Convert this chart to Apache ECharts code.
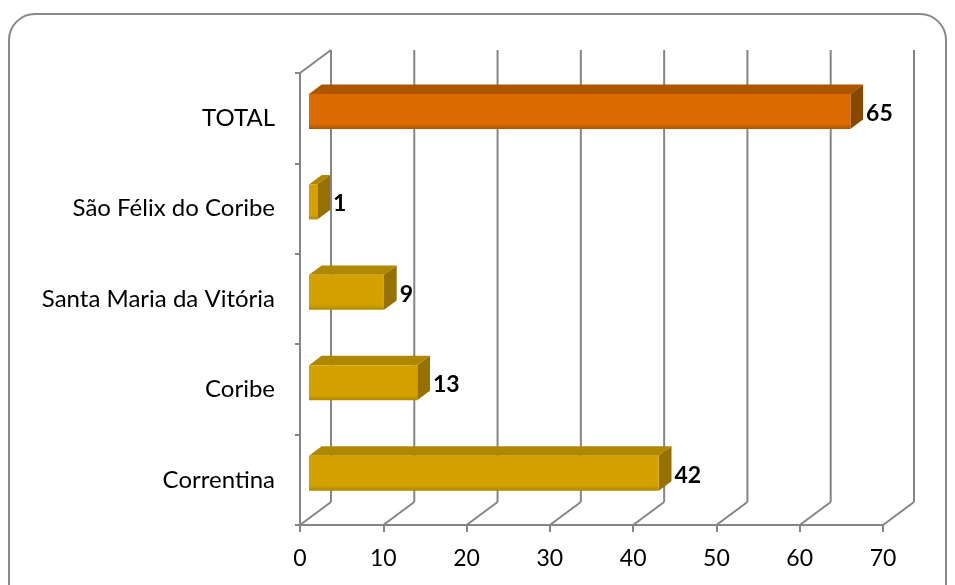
<!DOCTYPE html>
<html><head><meta charset="utf-8">
<script src="https://cdn.jsdelivr.net/npm/echarts@6/dist/echarts.min.js"></script>
<style>html,body{margin:0;padding:0;background:#fff}#c{width:955px;height:585px}</style>
</head><body><div id="c"></div>
<script>
const categories = ['Correntina', 'Coribe', 'Santa Maria da Vitória', 'São Félix do Coribe', 'TOTAL'];
const values = [42, 13, 9, 1, 65];
const xTicks = [0, 10, 20, 30, 40, 50, 60, 70];
const highlight = [false, false, false, false, true];

const DX = 31, DY = -23;
const D0 = 0.29, D1 = 0.70;
const FACE_H = 35;
const FONT = 'Lato';
const LINE = '#858585';
const palette = {
  gold:  {front: '#D4A200', top: '#B08800', side: '#967000'},
  total: {front: '#DB6B00', top: '#AC5600', side: '#884800'}
};

function barItem(params, api) {
  const v = api.value(0), ci = api.value(1);
  const p0 = api.coord([0, ci]), p1 = api.coord([v, ci]);
  const col = highlight[ci] ? palette.total : palette.gold;
  const fx0 = p0[0] + D0 * DX, fx1 = p1[0] + D0 * DX;
  const fy = p0[1] + D0 * DY;
  const top = fy - FACE_H / 2, bot = fy + FACE_H / 2;
  const ddx = (D1 - D0) * DX, ddy = (D1 - D0) * DY;
  return {type: 'group', children: [
    {type: 'polygon', shape: {points: [[fx0, top], [fx1, top], [fx1 + ddx, top + ddy], [fx0 + ddx, top + ddy]]},
      style: {fill: col.top}},
    {type: 'polygon', shape: {points: [[fx1, top], [fx1 + ddx, top + ddy], [fx1 + ddx, bot + ddy], [fx1, bot]]},
      style: {fill: col.side}},
    {type: 'rect', shape: {x: fx0, y: top, width: fx1 - fx0, height: FACE_H},
      style: {fill: new echarts.graphic.LinearGradient(0, 0, 0, 1, [
        {offset: 0, color: col.front}, {offset: 0.85, color: col.front}, {offset: 1, color: col.top}])}},
    {type: 'text', style: {text: String(v), x: fx1 + ddx + 3, y: fy + 2, verticalAlign: 'middle', align: 'left',
      font: 'bold 23px ' + FONT, fill: '#000'}}
  ]};
}

function wallItem(params, api) {
  const v = api.value(0);
  const cs = params.coordSys;
  const x = api.coord([v, 0])[0];
  const yF = cs.y + cs.height, yT = cs.y;
  const st = {stroke: LINE, lineWidth: 2};
  const ch = [
    {type: 'line', shape: {x1: x, y1: yF, x2: x + DX, y2: yF + DY}, style: st},
    {type: 'line', shape: {x1: x + DX, y1: yF + DY, x2: x + DX, y2: yT + DY}, style: st}
  ];
  if (v === xTicks[0]) {
    ch.push({type: 'line', shape: {x1: x, y1: yT, x2: x + DX, y2: yT + DY}, style: st});
  }
  return {type: 'group', children: ch};
}

const chart = echarts.init(document.getElementById('c'), null, {renderer: 'canvas'});
chart.setOption({
  animation: false,
  backgroundColor: '#fff',
  graphic: [{type: 'rect', shape: {x: 9, y: 14, width: 937, height: 620, r: 26},
    style: {fill: 'none', stroke: '#888', lineWidth: 2}, z: -1}],
  grid: {left: 300, top: 73, width: 583, height: 452, containLabel: false},
  xAxis: {
    type: 'value', min: 0, max: 70, interval: 10,
    axisLine: {show: true, lineStyle: {color: LINE, width: 2}},
    axisTick: {show: true, length: 7, lineStyle: {color: LINE, width: 2}},
    splitLine: {show: false},
    axisLabel: {margin: 22, fontFamily: FONT, fontSize: 23, color: '#000',
      formatter: (val) => xTicks.includes(val) ? String(val) : ''}
  },
  yAxis: {
    type: 'category', data: categories,
    axisLine: {show: true, lineStyle: {color: LINE, width: 2}},
    axisTick: {show: true, length: 5, lineStyle: {color: LINE, width: 2}},
    axisLabel: {margin: 25, fontFamily: FONT, fontSize: 24, color: '#000'},
    splitLine: {show: false}
  },
  series: [
    {type: 'custom', renderItem: wallItem, data: xTicks.map(v => [v, 0]), encode: {x: 0, y: 1}, z: 1, silent: true},
    {type: 'custom', renderItem: barItem, data: values.map((v, i) => [v, i]), encode: {x: 0, y: 1}, z: 5, silent: true}
  ]
});
</script>
</body></html>
